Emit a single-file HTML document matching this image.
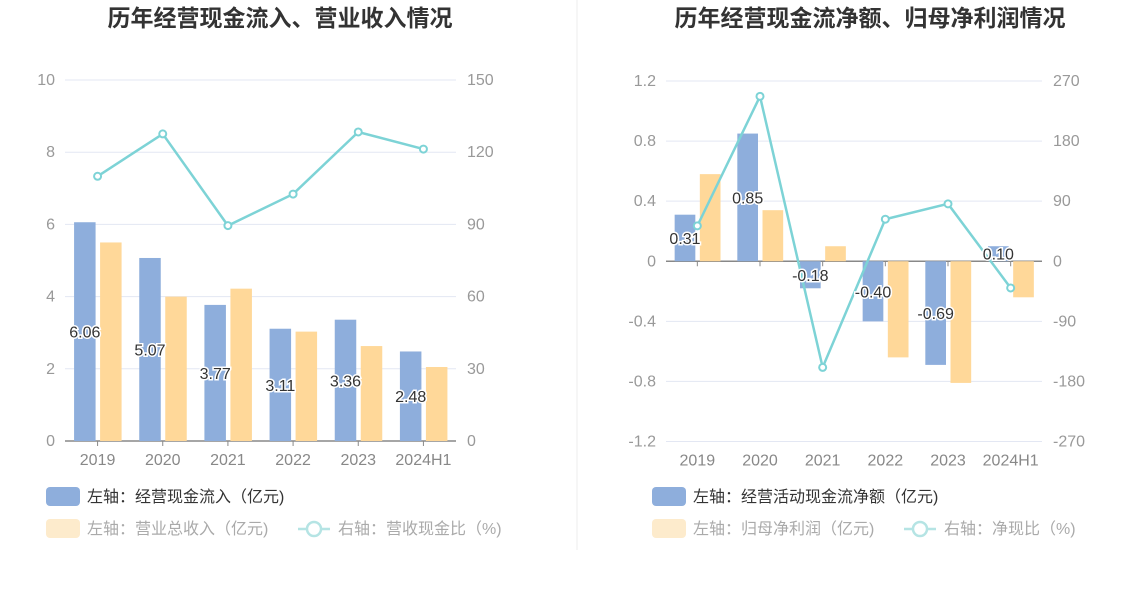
<!DOCTYPE html>
<html><head><meta charset="utf-8"><style>
html,body{margin:0;padding:0;background:#fff;width:1148px;height:589px;overflow:hidden}
svg text{font-family:"Liberation Sans","Noto Sans CJK SC",sans-serif}
</style></head><body>
<svg id="c" width="1148" height="589" xmlns="http://www.w3.org/2000/svg">
<line x1="577" y1="0" x2="577" y2="550" stroke="#eeeeee"/>
<text x="280" y="26" text-anchor="middle" font-size="23" font-weight="bold" fill="#333">历年经营现金流入、营业收入情况</text>
<text x="870" y="26" text-anchor="middle" font-size="23" font-weight="bold" fill="#333">历年经营现金流净额、归母净利润情况</text>
<g id="L"></g><g id="R"></g>
<g>
<rect x="46" y="487" width="34" height="19" rx="4" fill="#8eaedc"/>
<text x="87" y="502" font-size="16" fill="#333">左轴：经营现金流入（亿元)</text>
<rect x="46" y="519" width="34" height="19" rx="4" fill="#fdebcc"/>
<text x="87" y="534" font-size="16" fill="#aaa">左轴：营业总收入（亿元)</text>
<line x1="298" y1="529" x2="330" y2="529" stroke="#b5e4e4" stroke-width="2.5"/>
<circle cx="314" cy="529" r="7" fill="#fff" stroke="#b5e4e4" stroke-width="2.5"/>
<text x="338" y="534" font-size="16" fill="#aaa">右轴：营收现金比（%)</text>
</g>
<g>
<rect x="652" y="487" width="34" height="19" rx="4" fill="#8eaedc"/>
<text x="693" y="502" font-size="16" fill="#333">左轴：经营活动现金流净额（亿元)</text>
<rect x="652" y="519" width="34" height="19" rx="4" fill="#fdebcc"/>
<text x="693" y="534" font-size="16" fill="#aaa">左轴：归母净利润（亿元)</text>
<line x1="904" y1="529" x2="936" y2="529" stroke="#b5e4e4" stroke-width="2.5"/>
<circle cx="920" cy="529" r="7" fill="#fff" stroke="#b5e4e4" stroke-width="2.5"/>
<text x="944" y="534" font-size="16" fill="#aaa">右轴：净现比（%)</text>
</g>
</svg>
<script>
const categories = ["2019","2020","2021","2022","2023","2024H1"];
const inflow = [6.06,5.07,3.77,3.11,3.36,2.48];
const revenue = [5.5,4.0,4.22,3.03,2.63,2.05];
const cashRatio = [110,127.6,89.5,102.6,128.4,121.3];
const leftTicks = [0,2,4,6,8,10];
const leftRightTicks = [0,30,60,90,120,150];
const netCash = [0.31,0.85,-0.18,-0.40,-0.69,0.10];
const netProfit = [0.58,0.34,0.10,-0.64,-0.81,-0.24];
const netRatio = [53,247,-159,63,86,-40];
const rightTicks = [-1.2,-0.8,-0.4,0,0.4,0.8,1.2];
const rightRightTicks = [-270,-180,-90,0,90,180,270];
const NS="http://www.w3.org/2000/svg";
function mk(p,t,a){const e=document.createElementNS(NS,t);for(const k in a)e.setAttribute(k,a[k]);p.appendChild(e);return e;}
function chart(g,o){
  const n=o.cats.length, bw=(o.x1-o.x0)/n;
  const xc=i=>o.x0+bw*(i+0.5);
  const y=v=>o.yb-(v-o.lmin)/(o.lmax-o.lmin)*(o.yb-o.yt);
  const yr=v=>o.yb-(v-o.rmin)/(o.rmax-o.rmin)*(o.yb-o.yt);
  o.lt.forEach((t,i)=>{
    const yy=y(t);
    const gl=mk(g,'line',{x1:o.x0,x2:o.x1,y1:yy,y2:yy,stroke:'#e3e7f3'});
    
    
    const tl=mk(g,'text',{x:o.x0-10,y:yy+5,'text-anchor':'end','font-size':16,fill:'#999'});tl.textContent=String(t);
    
    
    const tr=mk(g,'text',{x:o.x1+11,y:yy+5,'font-size':16,fill:'#999'});tr.textContent=String(o.rt[i]);
    
    
  });
  const y0=y(0);
  const ax=mk(g,'line',{x1:o.x0,x2:o.x1,y1:y0,y2:y0,stroke:'#888','stroke-width':1.5});
  
  
  const bwid=bw*0.33;
  o.cats.forEach((c,i)=>{
    const cx=xc(i);
    mk(g,'line',{x1:cx,x2:cx,y1:y0,y2:y0+5,stroke:'#888'});
    const b1=mk(g,'rect',{x:cx-2-bwid,y:Math.min(y(o.s1[i]),y0),width:bwid,height:Math.abs(y(o.s1[i])-y0),fill:'#8eaedc'});
    
    
    const b2=mk(g,'rect',{x:cx+2.5,y:Math.min(y(o.s2[i]),y0),width:bwid,height:Math.abs(y(o.s2[i])-y0),fill:'#ffd899'});
    
    
    const xl=mk(g,'text',{x:cx,y:o.yb+24,'text-anchor':'middle','font-size':16,fill:'#888'});xl.textContent=c;
    
    
  });
  let d='';o.s3.forEach((v,i)=>{d+=(i?'L':'M')+xc(i)+','+yr(v);});
  const ln=mk(g,'path',{d:d,fill:'none',stroke:'#7dd3d6','stroke-width':2.5});
  
  
  o.s3.forEach((v,i)=>{
    const p=mk(g,'circle',{cx:xc(i),cy:yr(v),r:3.5,fill:'#fff',stroke:'#7dd3d6','stroke-width':2});
    
    
  });
  o.s1.forEach((v,i)=>{
    const cx=xc(i)-2-bwid/2, my=(y(v)+y0)/2;
    const t=mk(g,'text',{x:cx,y:my+6,'text-anchor':'middle','font-size':16,fill:'#333',stroke:'#fff','stroke-width':3,'paint-order':'stroke'});
    t.textContent=v.toFixed(2);
    
    
  });
}
chart(document.getElementById('L'),{cats:categories,x0:65,x1:456,yt:80,yb:441,lmin:0,lmax:10,rmin:0,rmax:150,lt:leftTicks,rt:leftRightTicks,s1:inflow,s2:revenue,s3:cashRatio,n1:'inflow',n2:'revenue',n3:'cash-ratio'});
chart(document.getElementById('R'),{cats:categories,x0:666,x1:1042,yt:81,yb:441.5,lmin:-1.2,lmax:1.2,rmin:-270,rmax:270,lt:rightTicks,rt:rightRightTicks,s1:netCash,s2:netProfit,s3:netRatio,n1:'net-cash',n2:'net-profit',n3:'net-ratio'});
</script>
</body></html>
